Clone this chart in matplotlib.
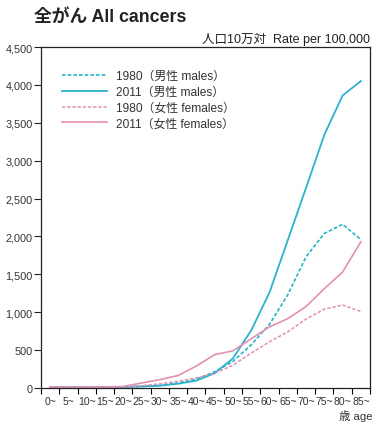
import matplotlib
matplotlib.use("Agg")
import matplotlib.pyplot as plt
from matplotlib.ticker import FuncFormatter

plt.rcParams['font.family'] = ['Liberation Sans', 'Noto Sans CJK JP', 'DejaVu Sans']

age_labels = ["0~", "5~", "10~", "15~", "20~", "25~", "30~", "35~", "40~", "45~",
              "50~", "55~", "60~", "65~", "70~", "75~", "80~", "85~"]
male_1980 = [15, 10, 10, 12, 15, 20, 35, 65, 115, 215, 350, 570, 840, 1230, 1730, 2040, 2160, 1960]
male_2011 = [15, 8, 8, 10, 15, 20, 30, 57, 97, 195, 390, 760, 1260, 1950, 2640, 3340, 3860, 4050]
female_1980 = [12, 8, 8, 10, 15, 30, 55, 88, 132, 195, 300, 460, 610, 740, 910, 1040, 1095, 1010]
female_2011 = [15, 8, 10, 13, 20, 66, 110, 165, 290, 440, 490, 650, 807, 915, 1076, 1310, 1530, 1930]

legend_labels = ["1980（男性 males）", "2011（男性 males）", "1980（女性 females）", "2011（女性 females）"]

cyan = "#2ab3cc"
pink = "#e48fb4"
dash = (0, (2.2, 1.2))

fig = plt.figure(figsize=(3.87, 4.27), dpi=100)
ax = fig.add_axes([41/387, 1-389/427, (370-41)/387, (389-48)/427])

x = list(range(len(age_labels)))
ax.plot(x, male_1980, color=cyan, lw=1.2, ls=dash, label=legend_labels[0])
ax.plot(x, male_2011, color=cyan, lw=1.3, label=legend_labels[1])
ax.plot(x, female_1980, color=pink, lw=1.1, ls=dash, label=legend_labels[2])
ax.plot(x, female_2011, color=pink, lw=1.2, label=legend_labels[3])

ax.set_xlim(-0.5, len(age_labels)-0.5)
ax.set_ylim(0, 4500)
ax.set_yticks(range(0, 4501, 500))
ax.yaxis.set_major_formatter(FuncFormatter(lambda v, p: f"{int(v):,}"))
ax.set_xticks(x)
ax.set_xticklabels(age_labels)
ax.set_xticks([i - 0.5 for i in range(len(age_labels)+1)], minor=True)
ax.tick_params(axis='x', which='major', length=0, pad=6, labelsize=7.5, colors='#333333')
ax.tick_params(axis='x', which='minor', length=4, width=0.8, direction='out')
ax.tick_params(axis='y', length=5, width=0.8, labelsize=7.8, colors='#222222',
               labelcolor='#333333', pad=1)
for s in ax.spines.values():
    s.set_linewidth(0.9)
    s.set_color('#222222')

leg = ax.legend(loc='upper left', bbox_to_anchor=(0.064, 0.932), frameon=False,
                fontsize=8.6, handlelength=3.8, handletextpad=0.75, labelspacing=0.32,
                borderaxespad=0, borderpad=0)
for t in leg.get_texts():
    t.set_color('#333333')

fig.text(34/387, 1-17/427, "全がん All cancers", fontsize=12.8, fontweight='bold',
         ha='left', va='center', color='#222222')
fig.text(370/387, 1-40/427, "人口10万対  Rate per 100,000", fontsize=9.0,
         ha='right', va='center', color='#222222')
fig.text(373/387, 1-416/427, "歳 age", fontsize=8.2, ha='right', va='center', color='#333333')

fig.savefig("out.png", dpi=100)
